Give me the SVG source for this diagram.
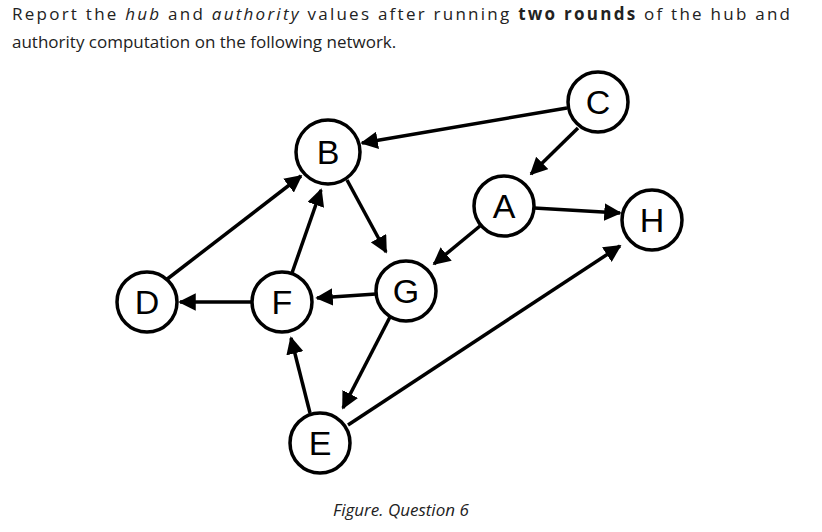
<svg xmlns="http://www.w3.org/2000/svg" width="822" height="532" viewBox="0 0 822 532">
<style>
.t{font-family:"Open Sans","Liberation Sans",sans-serif;font-size:17px;fill:#222}
.n circle{fill:#fff;stroke:#000;stroke-width:3.5}
.n text{font-family:"Liberation Sans",Arial,sans-serif;font-size:34px;text-anchor:middle;fill:#000}
.e line{stroke:#000;stroke-width:3.5;marker-end:url(#ah)}
</style>
<defs><marker id="ah" viewBox="0 0 10 10" refX="9" refY="5" markerWidth="5" markerHeight="5" orient="auto" markerUnits="strokeWidth"><path d="M0,0L10,5L0,10z" fill="#000"/></marker></defs>
<rect width="822" height="532" fill="#fff"/>
<text class="t" x="12" y="20" textLength="778" lengthAdjust="spacing">Report the <tspan font-style="italic">hub</tspan> and <tspan font-style="italic">authority</tspan> values after running <tspan font-weight="bold">two rounds</tspan> of the hub and</text>
<text class="t" x="12" y="48">authority computation on the following network.</text>
<text class="t" x="333" y="516" font-style="italic" font-size="16">Figure. Question 6</text>
<g id="edges" class="e">
<line x1="567" y1="108" x2="362" y2="143"/>
<line x1="578" y1="128" x2="531" y2="174"/>
<line x1="534" y1="208" x2="620" y2="213"/>
<line x1="480" y1="226" x2="434" y2="264"/>
<line x1="347" y1="180" x2="386" y2="252"/>
<line x1="376" y1="294" x2="317" y2="298"/>
<line x1="252" y1="302" x2="180" y2="302"/>
<line x1="166" y1="280" x2="301" y2="176"/>
<line x1="292" y1="273" x2="321" y2="190"/>
<line x1="390" y1="317" x2="343" y2="408"/>
<line x1="310" y1="413" x2="291" y2="338"/>
<line x1="348" y1="425" x2="620" y2="246"/>
</g>
<g id="C" class="n"><circle cx="598" cy="102" r="30"/><text x="598" y="114">C</text></g>
<g id="B" class="n"><circle cx="328" cy="152" r="32"/><text x="328" y="164">B</text></g>
<g id="A" class="n"><circle cx="504" cy="206" r="30"/><text x="504" y="218">A</text></g>
<g id="H" class="n"><circle cx="652" cy="220" r="30"/><text x="652" y="232">H</text></g>
<g id="D" class="n"><circle cx="147" cy="302" r="30"/><text x="147" y="314">D</text></g>
<g id="F" class="n"><circle cx="282" cy="302" r="30"/><text x="282" y="314">F</text></g>
<g id="G" class="n"><circle cx="406" cy="291" r="30"/><text x="406" y="303">G</text></g>
<g id="E" class="n"><circle cx="320" cy="443" r="30"/><text x="320" y="455">E</text></g>
</svg>
